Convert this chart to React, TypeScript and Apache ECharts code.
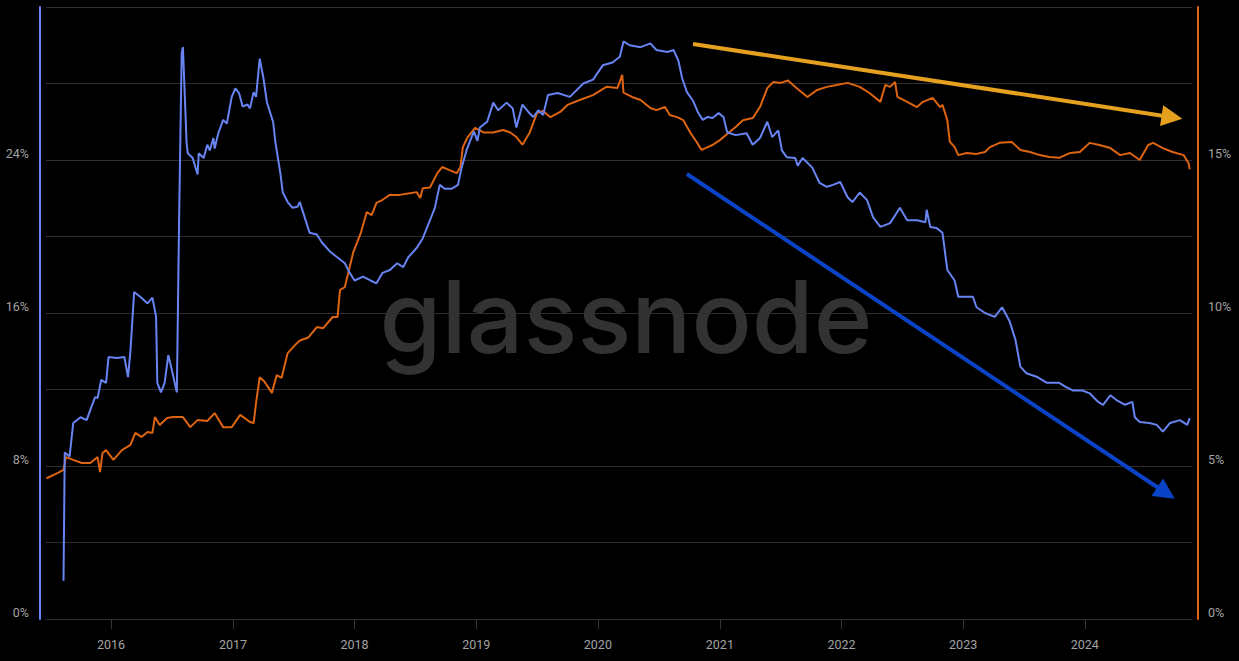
import React, { useEffect, useRef } from "react";
import * as echarts from "echarts";

// Blue series (left axis, %), dates as decimal years
const blueYears = [
  2015.61, 2015.62, 2015.66, 2015.69, 2015.75, 2015.8, 2015.84, 2015.87, 2015.89, 2015.92,
  2015.96, 2015.98, 2016.05, 2016.11, 2016.14, 2016.16, 2016.19, 2016.24, 2016.3, 2016.34,
  2016.37, 2016.38, 2016.41, 2016.44, 2016.47, 2016.5, 2016.54, 2016.56, 2016.58, 2016.59,
  2016.62, 2016.63, 2016.67, 2016.71, 2016.72, 2016.76, 2016.79, 2016.81, 2016.84, 2016.85,
  2016.88, 2016.92, 2016.95, 2016.99, 2017.02, 2017.05, 2017.08, 2017.12, 2017.14, 2017.17,
  2017.19, 2017.22, 2017.25, 2017.28, 2017.33, 2017.35, 2017.39, 2017.41, 2017.45, 2017.49,
  2017.53, 2017.55, 2017.59, 2017.63, 2017.69, 2017.73, 2017.8, 2017.86, 2017.92, 2017.96,
  2018.0, 2018.07, 2018.13, 2018.18, 2018.23, 2018.29, 2018.35, 2018.4, 2018.44, 2018.51,
  2018.56, 2018.62, 2018.66, 2018.7, 2018.74, 2018.8, 2018.85, 2018.88, 2018.92, 2018.95,
  2018.98, 2019.01, 2019.03, 2019.09, 2019.14, 2019.18, 2019.25, 2019.3, 2019.33, 2019.38,
  2019.43, 2019.47, 2019.51, 2019.55, 2019.59, 2019.67, 2019.77, 2019.88, 2019.96, 2020.04,
  2020.12, 2020.18, 2020.21, 2020.26, 2020.35, 2020.43, 2020.48, 2020.57, 2020.62, 2020.66,
  2020.69, 2020.73, 2020.78, 2020.82, 2020.86, 2020.9, 2020.94, 2020.99, 2021.03, 2021.06,
  2021.13, 2021.22, 2021.27, 2021.33, 2021.39, 2021.43, 2021.48, 2021.51, 2021.55, 2021.62,
  2021.64, 2021.68, 2021.76, 2021.82, 2021.88, 2021.93, 2021.99, 2022.05, 2022.09, 2022.15,
  2022.21, 2022.26, 2022.32, 2022.4, 2022.48, 2022.54, 2022.62, 2022.69, 2022.7, 2022.73,
  2022.78, 2022.83, 2022.87, 2022.93, 2022.96, 2023.08, 2023.11, 2023.18, 2023.26, 2023.32,
  2023.38, 2023.43, 2023.47, 2023.52, 2023.61, 2023.69, 2023.79, 2023.84, 2023.9, 2023.98,
  2024.04, 2024.11, 2024.15, 2024.21, 2024.26, 2024.33, 2024.39, 2024.41, 2024.45, 2024.53,
  2024.59, 2024.64, 2024.7, 2024.78, 2024.84, 2024.86,
];
const blueValues = [
  2.0, 8.7, 8.5, 10.25, 10.55, 10.4, 11.1, 11.6, 11.55, 12.5,
  12.35, 13.7, 13.65, 13.7, 12.65, 14.05, 17.1, 16.85, 16.5, 16.8,
  15.8, 12.35, 11.85, 12.35, 13.8, 13.0, 11.85, 21.5, 29.6, 29.9,
  24.9, 24.35, 24.1, 23.25, 24.35, 24.1, 24.8, 24.5, 25.15, 24.6,
  25.4, 26.1, 25.9, 27.3, 27.75, 27.5, 26.8, 26.9, 26.7, 27.55,
  27.3, 29.3, 28.3, 27.0, 26.0, 24.9, 23.3, 22.3, 21.8, 21.5,
  21.55, 21.8, 21.0, 20.2, 20.1, 19.7, 19.2, 18.9, 18.6, 18.1,
  17.7, 17.9, 17.7, 17.55, 18.1, 18.25, 18.6, 18.4, 18.9, 19.4,
  19.9, 20.85, 21.5, 22.7, 22.5, 22.5, 22.7, 23.6, 24.5, 25.0,
  25.5, 25.0, 25.7, 26.0, 27.0, 26.6, 27.0, 26.7, 25.7, 26.9,
  26.5, 26.25, 26.6, 26.35, 27.4, 27.5, 27.3, 28.0, 28.2, 28.95,
  29.1, 29.4, 30.2, 30.0, 29.9, 30.1, 29.75, 29.65, 29.75, 29.2,
  28.3, 27.55, 27.1, 26.5, 26.1, 26.25, 26.2, 26.45, 26.25, 25.45,
  25.3, 25.4, 24.8, 25.15, 26.0, 25.2, 25.55, 24.5, 24.15, 24.1,
  23.7, 24.1, 23.6, 22.8, 22.6, 22.7, 22.85, 22.05, 21.8, 22.3,
  21.9, 21.0, 20.5, 20.7, 21.5, 20.85, 20.85, 20.75, 21.4, 20.5,
  20.45, 20.2, 18.25, 17.7, 16.85, 16.85, 16.3, 16.0, 15.8, 16.3,
  15.6, 14.6, 13.2, 12.85, 12.65, 12.35, 12.35, 12.15, 11.95, 11.95,
  11.8, 11.35, 11.2, 11.7, 11.45, 11.2, 11.35, 10.55, 10.3, 10.25,
  10.15, 9.8, 10.25, 10.4, 10.15, 10.5,
];

// Orange series (right axis, %)
const orangeYears = [
  2015.47, 2015.56, 2015.61, 2015.63, 2015.69, 2015.76, 2015.83, 2015.89, 2015.91, 2015.93,
  2015.96, 2016.02, 2016.09, 2016.16, 2016.2, 2016.25, 2016.3, 2016.34, 2016.36, 2016.4,
  2016.46, 2016.51, 2016.59, 2016.65, 2016.71, 2016.79, 2016.85, 2016.92, 2016.99, 2017.06,
  2017.14, 2017.17, 2017.19, 2017.22, 2017.26, 2017.32, 2017.36, 2017.4, 2017.45, 2017.51,
  2017.55, 2017.62, 2017.69, 2017.74, 2017.82, 2017.86, 2017.88, 2017.92, 2017.96, 2017.99,
  2018.05, 2018.1, 2018.14, 2018.18, 2018.23, 2018.29, 2018.37, 2018.43, 2018.51, 2018.54,
  2018.56, 2018.62, 2018.68, 2018.72, 2018.78, 2018.84, 2018.87, 2018.89, 2018.93, 2018.99,
  2019.06, 2019.14, 2019.22, 2019.28, 2019.33, 2019.38, 2019.44, 2019.5, 2019.55, 2019.61,
  2019.69, 2019.75, 2019.85, 2019.96, 2020.07, 2020.16, 2020.2, 2020.21, 2020.28, 2020.35,
  2020.43, 2020.48, 2020.55, 2020.59, 2020.65, 2020.7, 2020.76, 2020.81, 2020.85, 2020.9,
  2020.94, 2021.0, 2021.07, 2021.13, 2021.19, 2021.27, 2021.33, 2021.39, 2021.44, 2021.5,
  2021.56, 2021.63, 2021.72, 2021.8, 2021.88, 2021.96, 2022.05, 2022.15, 2022.23, 2022.32,
  2022.36, 2022.4, 2022.44, 2022.46, 2022.54, 2022.62, 2022.67, 2022.75, 2022.81, 2022.83,
  2022.87, 2022.89, 2022.93, 2022.96, 2023.03, 2023.11, 2023.18, 2023.22, 2023.3, 2023.4,
  2023.47, 2023.55, 2023.63, 2023.71, 2023.79, 2023.88, 2023.96, 2024.04, 2024.12, 2024.21,
  2024.29, 2024.37, 2024.45, 2024.52, 2024.56, 2024.64, 2024.72, 2024.81, 2024.85, 2024.86,
];
const orangeValues = [
  4.6, 4.77, 4.87, 5.29, 5.2, 5.1, 5.1, 5.29, 4.8, 5.42,
  5.52, 5.2, 5.52, 5.69, 6.08, 5.95, 6.11, 6.08, 6.6, 6.34,
  6.57, 6.6, 6.6, 6.27, 6.5, 6.47, 6.73, 6.27, 6.27, 6.67,
  6.44, 6.4, 7.06, 7.9, 7.75, 7.39, 7.97, 7.88, 8.69, 8.95,
  9.1, 9.2, 9.54, 9.5, 9.87, 9.87, 10.75, 10.85, 11.5, 12.0,
  12.6, 13.3, 13.2, 13.6, 13.7, 13.86, 13.86, 13.9, 13.95, 13.76,
  14.08, 14.1, 14.57, 14.77, 14.67, 14.57, 14.77, 15.42, 15.75, 16.05,
  15.9, 15.9, 15.98, 15.9, 15.75, 15.5, 15.9, 16.54, 16.6, 16.4,
  16.57, 16.8, 16.96, 17.12, 17.39, 17.35, 17.78, 17.2, 17.06, 16.96,
  16.7, 16.63, 16.73, 16.47, 16.4, 16.3, 15.88, 15.59, 15.33, 15.42,
  15.49, 15.65, 15.88, 16.08, 16.3, 16.37, 16.73, 17.35, 17.55, 17.52,
  17.6, 17.35, 17.06, 17.29, 17.39, 17.45, 17.52, 17.39, 17.19, 16.9,
  17.45, 17.39, 17.55, 17.06, 16.9, 16.73, 16.9, 17.03, 16.73, 16.8,
  16.3, 15.6, 15.42, 15.16, 15.23, 15.2, 15.26, 15.42, 15.56, 15.59,
  15.33, 15.26, 15.16, 15.1, 15.07, 15.23, 15.26, 15.56, 15.49, 15.39,
  15.16, 15.23, 15.0, 15.49, 15.56, 15.39, 15.26, 15.16, 14.9, 14.7,
];

// Trend arrows (annotation, [decimal year, value])
const orangeArrow = [[2020.78, 18.79], [2024.715, 16.4]];
const blueArrow = [[2020.73, 23.27], [2024.666, 6.59]];

const xRange = [2015.466, 2024.879];
const leftAxis = { min: 0, max: 32, step: 4, labelStep: 8 };
const rightAxis = { min: 0, max: 20, step: 2.5, labelStep: 5 };

const BLUE = "#6784f2";
const ORANGE = "#dd6410";

const toTs = (y: number) => {
  const yr = Math.floor(y);
  const s = Date.UTC(yr, 0, 1);
  const e = Date.UTC(yr + 1, 0, 1);
  return s + (y - yr) * (e - s);
};

const YEAR_MS = 365.25 * 24 * 3600 * 1000;

export default function App() {
  const ref = useRef<HTMLDivElement>(null);
  useEffect(() => {
    const chart = echarts.init(ref.current!, null, { renderer: "svg" });
    const blueData = blueYears.map((y, i) => [toTs(y), blueValues[i]]);
    const orangeData = orangeYears.map((y, i) => [toTs(y), orangeValues[i]]);
    const labelStyle = { color: "#a3a3a3", fontSize: 12.5, fontFamily: "Roboto, sans-serif" };
    chart.setOption({
      animation: false,
      useUTC: true,
      backgroundColor: "#000",
      grid: { left: 46, right: 47, top: 7, bottom: 42 },
      graphic: [
        {
          type: "text",
          z: -10,
          silent: true,
          style: {
            x: 626,
            y: 316,
            text: "glassnode",
            fill: "#323232",
            font: "500 100px Inter, sans-serif",
            textAlign: "center",
            textVerticalAlign: "middle",
          },
        },
      ],
      xAxis: {
        type: "time",
        min: toTs(xRange[0]),
        max: toTs(xRange[1]),
        minInterval: YEAR_MS,
        maxInterval: YEAR_MS,
        axisLine: { show: true, lineStyle: { color: "#2e2e2e", width: 1 } },
        axisTick: { show: true, length: 10, lineStyle: { color: "#333" } },
        splitLine: { show: false },
        axisLabel: {
          ...labelStyle,
          margin: 19,
          formatter: (v: number) => String(new Date(v).getUTCFullYear()),
        },
      },
      yAxis: [
        {
          type: "value",
          position: "left",
          offset: 6,
          min: leftAxis.min,
          max: leftAxis.max,
          interval: leftAxis.step,
          axisLine: { show: true, lineStyle: { color: BLUE, width: 2 } },
          axisTick: { show: false },
          splitLine: { show: true, lineStyle: { color: "#2e2e2e", width: 1 } },
          axisLabel: {
            ...labelStyle,
            margin: 11,
            verticalAlign: "bottom",
            formatter: (v: number) =>
              v % leftAxis.labelStep === 0 && v < leftAxis.max ? `${v}%` : "",
          },
        },
        {
          type: "value",
          position: "right",
          offset: 6,
          min: rightAxis.min,
          max: rightAxis.max,
          interval: rightAxis.step,
          axisLine: { show: true, lineStyle: { color: ORANGE, width: 2 } },
          axisTick: { show: false },
          splitLine: { show: false },
          axisLabel: {
            ...labelStyle,
            margin: 10,
            verticalAlign: "bottom",
            formatter: (v: number) =>
              v % rightAxis.labelStep === 0 && v < rightAxis.max ? `${v}%` : "",
          },
        },
      ],
      series: [
        {
          type: "line",
          name: "Orange",
          yAxisIndex: 1,
          data: orangeData,
          showSymbol: false,
          symbol: "none",
          lineStyle: { color: ORANGE, width: 2 },
          z: 3,
          markLine: {
            silent: true,
            symbol: ["none", "triangle"],
            symbolSize: [21, 21],
            label: { show: false },
            lineStyle: { color: "#e4a01e", width: 4, type: "solid" },
            data: [
              [
                { coord: [toTs(orangeArrow[0][0]), orangeArrow[0][1]] },
                { coord: [toTs(orangeArrow[1][0]), orangeArrow[1][1]] },
              ],
            ],
          },
        },
        {
          type: "line",
          name: "Blue",
          yAxisIndex: 0,
          data: blueData,
          showSymbol: false,
          symbol: "none",
          lineStyle: { color: BLUE, width: 2 },
          z: 4,
          markLine: {
            silent: true,
            symbol: ["none", "triangle"],
            symbolSize: [21, 21],
            label: { show: false },
            lineStyle: { color: "#0b43c6", width: 4, type: "solid" },
            data: [
              [
                { coord: [toTs(blueArrow[0][0]), blueArrow[0][1]] },
                { coord: [toTs(blueArrow[1][0]), blueArrow[1][1]] },
              ],
            ],
          },
        },
      ],
    });
    return () => chart.dispose();
  }, []);
  return (
    <div
      ref={ref}
      style={{ position: "absolute", left: 0, top: 0, width: 1239, height: 661, background: "#000" }}
    />
  );
}
